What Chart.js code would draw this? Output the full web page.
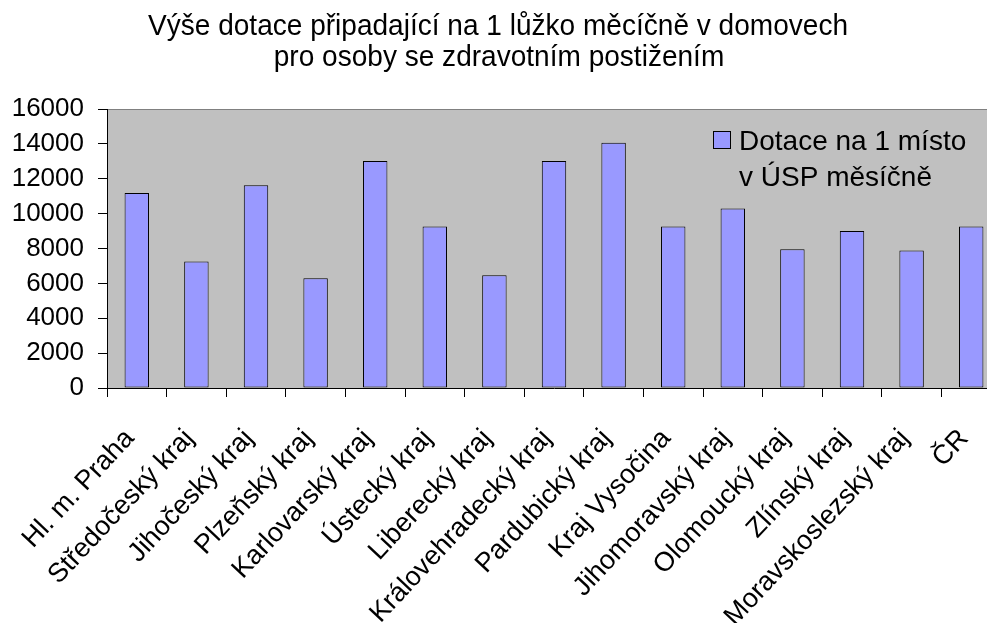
<!DOCTYPE html>
<html>
<head>
<meta charset="utf-8">
<script src="https://cdn.jsdelivr.net/npm/chart.js@4/dist/chart.umd.min.js"></script>
<style>
	html, body { margin: 0; padding: 0; background: #fff; overflow: hidden; }
	#wrap { position: relative; width: 1010px; height: 623px; }
</style>
</head>
<body>
<div id="wrap"><canvas id="chart"></canvas></div>
<script>
/* global Chart */

// Data.
var TITLE_LINES = [
	'Výše dotace připadající na 1 lůžko měcíčně v domovech',
	'pro osoby se zdravotním postižením'
];
var REGIONS = [
	'Hl. m. Praha', 'Středočeský kraj', 'Jihočeský kraj', 'Plzeňský kraj',
	'Karlovarský kraj', 'Ústecký kraj', 'Liberecký kraj', 'Královehradecký kraj',
	'Pardubický kraj', 'Kraj Vysočina', 'Jihomoravský kraj', 'Olomoucký kraj',
	'Zlínský kraj', 'Moravskoslezský kraj', 'ČR'
];
var DOTACE = [
	11180, 7260, 11630, 6290, 13020, 9260, 6460, 13020,
	14070, 9260, 10300, 7950, 9000, 7880, 9260
];
var LEGEND_LINES = ['Dotace na 1 místo', 'v ÚSP měsíčně'];
var Y_MAX = 16000;
var Y_STEP = 2000;

var FONT = '"Liberation Sans", Arial, sans-serif';

var COLORS = {
	bar:      '#9999FF',
	border:   '#000000',
	plotBg:   '#C0C0C0',
	plotEdge: '#808080',
	text:     '#000000',
};

// Title text in the reference is a little narrower than plain Arial.
function drawNarrowText(ctx, text, cx, y, squeeze) {
	ctx.save();
	ctx.translate(cx, y);
	ctx.scale(squeeze, 1);
	ctx.fillText(text, 0, 0);
	ctx.restore();
}

// Gray plot area, title and the in-plot legend.
var decor = {
	id: 'decor',
	beforeDraw: function (chart) {
		var a = chart.chartArea;
		var ctx = chart.ctx;
		ctx.save();
		ctx.fillStyle = COLORS.plotBg;
		ctx.fillRect(a.left, a.top, a.right - a.left, a.bottom - a.top);
		ctx.strokeStyle = COLORS.plotEdge;
		ctx.lineWidth = 1;
		ctx.beginPath();
		ctx.moveTo(a.left, a.top + 0.5);
		ctx.lineTo(a.right, a.top + 0.5);
		ctx.stroke();
		ctx.restore();
	},
	afterDraw: function (chart) {
		var ctx = chart.ctx;
		ctx.save();
		ctx.fillStyle = COLORS.text;
		ctx.font = '30px ' + FONT;
		ctx.textAlign = 'center';
		ctx.textBaseline = 'alphabetic';
		var squeeze = 700 / ctx.measureText(TITLE_LINES[0]).width;
		drawNarrowText(ctx, TITLE_LINES[0], 498, 35, squeeze);
		drawNarrowText(ctx, TITLE_LINES[1], 499, 66, squeeze);

		// legend
		ctx.font = '28px ' + FONT;
		ctx.fillStyle = COLORS.bar;
		ctx.fillRect(713.5, 131.5, 17, 17);
		ctx.strokeStyle = COLORS.border;
		ctx.lineWidth = 1;
		ctx.strokeRect(713.5, 131.5, 17, 17);
		ctx.fillStyle = COLORS.text;
		ctx.textAlign = 'left';
		ctx.fillText(LEGEND_LINES[0], 739, 150);
		ctx.fillText(LEGEND_LINES[1], 739, 186);
		ctx.restore();
	}
};

new Chart(document.getElementById('chart'), {
	type: 'bar',
	data: {
		labels: REGIONS,
		datasets: [{
			label: LEGEND_LINES.join(' '),
			data: DOTACE,
			backgroundColor: COLORS.bar,
			borderColor: COLORS.border,
			borderWidth: 1,
			borderSkipped: false,
			barPercentage: 0.41,
			categoryPercentage: 1,
		}],
	},
	options: {
		responsive: true,
		maintainAspectRatio: false,
		animation: false,
		layout: {
			padding: { top: 109, left: 10, right: 9, bottom: 0 },
		},
		plugins: {
			legend: { display: false },
			title: { display: false },
			tooltip: { enabled: false },
		},
		scales: {
			x: {
				offset: true,
				grid: {
					offset: true,
					drawOnChartArea: false,
					tickLength: 9,
					color: COLORS.border,
				},
				border: { color: COLORS.border, width: 1 },
				ticks: {
					autoSkip: false,
					minRotation: 47,
					maxRotation: 47,
					padding: 26,
					labelOffset: -7,
					color: COLORS.text,
					font: { family: FONT, size: 27 },
				},
				afterFit: function (scale) {
					scale.height = 235;
					scale.paddingLeft = 0;
					scale.paddingRight = 0;
				},
			},
			y: {
				min: 0,
				max: Y_MAX,
				grid: {
					drawOnChartArea: false,
					tickLength: 9,
					color: COLORS.border,
				},
				border: { color: COLORS.border, width: 1 },
				ticks: {
					stepSize: Y_STEP,
					autoSkip: false,
					padding: 14,
					color: COLORS.text,
					font: { family: FONT, size: 26 },
					callback: function (val) {
						return String(val);
					},
				},
				afterFit: function (scale) {
					scale.width = 97;
					scale.paddingTop = 0;
					scale.paddingBottom = 0;
				},
			},
		},
	},
	plugins: [decor],
});
</script>
</body>
</html>
